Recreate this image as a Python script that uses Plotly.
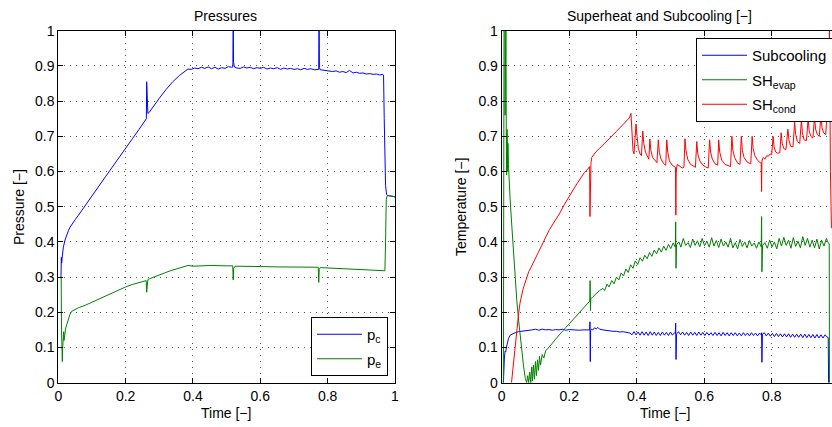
import plotly.graph_objects as go

# ---------------- data ----------------
# Left panel: pressures vs time
PC_POINTS = [
    (0.008, 0.300), (0.0085, 0.350), (0.009, 0.356), (0.0095, 0.345), (0.010, 0.340),
    (0.012, 0.360), (0.015, 0.385), (0.020, 0.405), (0.025, 0.420), (0.030, 0.432),
    (0.035, 0.442), (0.040, 0.450), (0.050, 0.463), (0.060, 0.476), (0.070, 0.490),
    (0.080, 0.502), (0.090, 0.516), (0.100, 0.530), (0.120, 0.557), (0.140, 0.585),
    (0.160, 0.612), (0.180, 0.640), (0.200, 0.666), (0.220, 0.693), (0.240, 0.720),
    (0.2615, 0.750), (0.2625, 0.855), (0.2640, 0.790), (0.2660, 0.765), (0.2700, 0.768),
    (0.280, 0.782), (0.300, 0.808), (0.320, 0.833), (0.340, 0.855), (0.360, 0.873),
    (0.375, 0.884), (0.385, 0.891), (0.395, 0.890), (0.405, 0.894), (0.415, 0.892),
    (0.425, 0.896), (0.435, 0.893), (0.445, 0.897), (0.455, 0.892), (0.465, 0.896),
    (0.475, 0.891), (0.485, 0.895), (0.495, 0.893), (0.505, 0.898), (0.515, 0.896),
    (0.5185, 0.897), (0.5195, 1.050), (0.5205, 0.910), (0.523, 0.897), (0.530, 0.894),
    (0.540, 0.893), (0.550, 0.897), (0.560, 0.894), (0.570, 0.896), (0.580, 0.892),
    (0.590, 0.895), (0.600, 0.893), (0.610, 0.896), (0.620, 0.891), (0.630, 0.894),
    (0.640, 0.892), (0.650, 0.895), (0.660, 0.890), (0.670, 0.894), (0.680, 0.891),
    (0.690, 0.893), (0.700, 0.890), (0.710, 0.892), (0.720, 0.889), (0.730, 0.893),
    (0.740, 0.890), (0.750, 0.892), (0.760, 0.889), (0.770, 0.891), (0.7735, 0.890),
    (0.7745, 1.050), (0.7755, 0.895), (0.778, 0.889), (0.785, 0.888), (0.795, 0.887),
    (0.805, 0.886), (0.815, 0.884), (0.825, 0.886), (0.835, 0.882), (0.845, 0.884),
    (0.855, 0.881), (0.865, 0.887), (0.875, 0.880), (0.885, 0.882), (0.895, 0.879),
    (0.905, 0.880), (0.915, 0.877), (0.925, 0.878), (0.935, 0.876), (0.945, 0.877),
    (0.955, 0.874), (0.962, 0.876), (0.966, 0.874), (0.968, 0.750), (0.970, 0.600),
    (0.972, 0.560), (0.975, 0.535), (0.978, 0.532), (0.990, 0.530), (1.000, 0.528),
]

PE_POINTS = [
    (0.008, 0.300), (0.0085, 0.300), (0.0095, 0.150), (0.011, 0.070), (0.012, 0.060),
    (0.013, 0.100), (0.014, 0.140), (0.016, 0.145), (0.017, 0.120), (0.019, 0.140),
    (0.022, 0.155), (0.025, 0.165), (0.030, 0.182), (0.035, 0.195), (0.040, 0.203),
    (0.045, 0.206), (0.060, 0.213), (0.080, 0.220), (0.100, 0.229), (0.120, 0.238),
    (0.140, 0.247), (0.160, 0.256), (0.180, 0.264), (0.200, 0.272), (0.220, 0.279),
    (0.240, 0.285), (0.2610, 0.290), (0.2625, 0.257), (0.2640, 0.290), (0.266, 0.293),
    (0.270, 0.295), (0.290, 0.303), (0.310, 0.310), (0.330, 0.317), (0.350, 0.323),
    (0.370, 0.329), (0.385, 0.333), (0.400, 0.331), (0.450, 0.333), (0.500, 0.332),
    (0.518, 0.332), (0.5195, 0.292), (0.521, 0.325), (0.525, 0.331), (0.550, 0.330),
    (0.600, 0.330), (0.650, 0.329), (0.700, 0.329), (0.750, 0.328), (0.772, 0.328),
    (0.7735, 0.285), (0.775, 0.322), (0.778, 0.327), (0.800, 0.326), (0.850, 0.323),
    (0.900, 0.320), (0.950, 0.318), (0.970, 0.318), (0.972, 0.400), (0.974, 0.520),
    (0.977, 0.532), (0.990, 0.530), (1.000, 0.528),
]

# Right panel: superheat and subcooling vs time
SUBCOOL_POINTS = [
    (0.005, 0.000), (0.006, 0.065), (0.008, 0.070), (0.010, 0.090), (0.012, 0.088),
    (0.014, 0.100), (0.017, 0.115), (0.020, 0.125), (0.025, 0.135), (0.030, 0.138),
    (0.040, 0.142), (0.050, 0.145), (0.060, 0.146), (0.070, 0.148), (0.080, 0.147),
    (0.090, 0.150), (0.100, 0.152), (0.110, 0.149), (0.120, 0.152), (0.130, 0.150),
    (0.140, 0.151), (0.150, 0.149), (0.160, 0.151), (0.170, 0.150), (0.180, 0.152),
    (0.190, 0.149), (0.200, 0.151), (0.210, 0.150), (0.220, 0.151), (0.230, 0.149),
    (0.240, 0.150), (0.250, 0.149), (0.2605, 0.150), (0.2615, 0.173), (0.2625, 0.060),
    (0.2635, 0.148), (0.266, 0.152), (0.270, 0.150), (0.275, 0.156), (0.280, 0.153),
    (0.285, 0.157), (0.290, 0.152), (0.300, 0.150), (0.310, 0.148), (0.320, 0.147),
    (0.330, 0.146), (0.340, 0.146), (0.350, 0.144), (0.360, 0.145), (0.370, 0.142),
    (0.380, 0.141), (0.386, 0.136), (0.392, 0.145), (0.398, 0.136), (0.404, 0.144),
    (0.410, 0.135), (0.416, 0.145), (0.422, 0.135), (0.428, 0.144), (0.434, 0.134),
    (0.440, 0.145), (0.446, 0.135), (0.452, 0.144), (0.458, 0.134), (0.464, 0.143),
    (0.470, 0.134), (0.476, 0.144), (0.482, 0.135), (0.488, 0.143), (0.494, 0.134),
    (0.500, 0.144), (0.506, 0.135), (0.512, 0.142), (0.5145, 0.140), (0.5155, 0.169),
    (0.5165, 0.066), (0.518, 0.138), (0.524, 0.145), (0.530, 0.136), (0.536, 0.144),
    (0.542, 0.135), (0.548, 0.143), (0.554, 0.134), (0.560, 0.144), (0.566, 0.135),
    (0.572, 0.143), (0.578, 0.134), (0.584, 0.144), (0.590, 0.135), (0.596, 0.143),
    (0.602, 0.134), (0.608, 0.143), (0.614, 0.135), (0.620, 0.142), (0.626, 0.134),
    (0.632, 0.143), (0.638, 0.134), (0.644, 0.142), (0.650, 0.133), (0.656, 0.143),
    (0.662, 0.134), (0.668, 0.142), (0.674, 0.133), (0.680, 0.142), (0.686, 0.134),
    (0.692, 0.142), (0.698, 0.133), (0.704, 0.141), (0.710, 0.133), (0.716, 0.142),
    (0.722, 0.134), (0.728, 0.141), (0.734, 0.133), (0.740, 0.142), (0.746, 0.134),
    (0.752, 0.141), (0.758, 0.133), (0.764, 0.141), (0.7690, 0.136), (0.7700, 0.142),
    (0.7710, 0.058), (0.7725, 0.138), (0.778, 0.142), (0.784, 0.133), (0.790, 0.141),
    (0.796, 0.132), (0.802, 0.140), (0.808, 0.131), (0.814, 0.140), (0.820, 0.131),
    (0.826, 0.139), (0.832, 0.130), (0.838, 0.139), (0.844, 0.130), (0.850, 0.139),
    (0.856, 0.129), (0.862, 0.138), (0.868, 0.129), (0.874, 0.138), (0.880, 0.129),
    (0.886, 0.138), (0.892, 0.128), (0.898, 0.138), (0.904, 0.128), (0.910, 0.137),
    (0.916, 0.128), (0.922, 0.137), (0.928, 0.127), (0.934, 0.137), (0.940, 0.127),
    (0.946, 0.136), (0.952, 0.127), (0.958, 0.136), (0.964, 0.130), (0.9675, 0.128),
    (0.9685, 0.000),
]

SH_EVAP_POINTS = [
    (0.005, 0.000), (0.007, 1.050), (0.0095, 1.050), (0.0100, 0.760), (0.0115, 1.050),
    (0.0125, 1.050), (0.0135, 0.720), (0.0145, 0.590), (0.0155, 0.720), (0.0165, 0.710),
    (0.0175, 0.600), (0.0185, 0.680), (0.0200, 0.620), (0.0220, 0.570), (0.0250, 0.520),
    (0.0300, 0.445), (0.0350, 0.365), (0.0400, 0.290), (0.0450, 0.230), (0.0500, 0.178),
    (0.0550, 0.130), (0.0600, 0.085), (0.0650, 0.045), (0.0700, 0.012), (0.0740, 0.000),
    (0.0770, 0.020), (0.0800, 0.000), (0.0830, 0.030), (0.0860, 0.000), (0.0890, 0.045),
    (0.0910, 0.005), (0.0940, 0.050), (0.0970, 0.010), (0.1000, 0.060), (0.1030, 0.020),
    (0.1060, 0.065), (0.1090, 0.035), (0.1120, 0.075), (0.1150, 0.050), (0.1200, 0.080),
    (0.1250, 0.070), (0.1300, 0.090), (0.1400, 0.100), (0.1500, 0.112), (0.1600, 0.124),
    (0.1700, 0.136), (0.1800, 0.147), (0.1900, 0.157), (0.2000, 0.167), (0.2100, 0.178),
    (0.2200, 0.190), (0.2300, 0.200), (0.2400, 0.210), (0.2500, 0.222), (0.2610, 0.232),
    (0.2620, 0.290), (0.2630, 0.205), (0.2640, 0.238), (0.2700, 0.244), (0.2800, 0.254),
    (0.2900, 0.262), (0.3000, 0.268), (0.305, 0.262), (0.312, 0.280), (0.318, 0.272),
    (0.326, 0.290), (0.333, 0.281), (0.340, 0.300), (0.347, 0.292), (0.354, 0.312),
    (0.361, 0.303), (0.368, 0.323), (0.375, 0.313), (0.382, 0.335), (0.389, 0.325),
    (0.396, 0.346), (0.403, 0.336), (0.410, 0.355), (0.417, 0.345), (0.424, 0.362),
    (0.431, 0.352), (0.438, 0.370), (0.445, 0.359), (0.452, 0.377), (0.459, 0.366),
    (0.466, 0.383), (0.473, 0.371), (0.480, 0.388), (0.487, 0.376), (0.494, 0.393),
    (0.501, 0.381), (0.508, 0.397), (0.5145, 0.385), (0.5155, 0.457), (0.5165, 0.325),
    (0.518, 0.392), (0.525, 0.400), (0.531, 0.385), (0.538, 0.410), (0.545, 0.390),
    (0.552, 0.398), (0.559, 0.384), (0.566, 0.408), (0.573, 0.390), (0.580, 0.403),
    (0.587, 0.386), (0.594, 0.410), (0.601, 0.389), (0.608, 0.402), (0.615, 0.385),
    (0.622, 0.412), (0.629, 0.388), (0.636, 0.404), (0.643, 0.384), (0.650, 0.408),
    (0.657, 0.388), (0.664, 0.400), (0.671, 0.385), (0.678, 0.410), (0.685, 0.383),
    (0.692, 0.398), (0.699, 0.380), (0.706, 0.407), (0.713, 0.387), (0.720, 0.400),
    (0.727, 0.383), (0.734, 0.404), (0.741, 0.388), (0.748, 0.397), (0.755, 0.382),
    (0.762, 0.400), (0.7690, 0.386), (0.7700, 0.472), (0.7710, 0.315), (0.773, 0.390),
    (0.780, 0.398), (0.787, 0.382), (0.794, 0.405), (0.801, 0.386), (0.808, 0.400),
    (0.815, 0.380), (0.822, 0.410), (0.829, 0.388), (0.836, 0.413), (0.843, 0.390),
    (0.850, 0.405), (0.857, 0.382), (0.864, 0.412), (0.871, 0.387), (0.878, 0.402),
    (0.885, 0.383), (0.892, 0.415), (0.899, 0.390), (0.906, 0.410), (0.913, 0.385),
    (0.920, 0.405), (0.927, 0.383), (0.934, 0.408), (0.941, 0.380), (0.948, 0.405),
    (0.955, 0.388), (0.962, 0.410), (0.967, 0.398), (0.9705, 0.395), (0.9712, 0.000),
]

SH_COND_POINTS = [
    (0.029, 0.000), (0.032, 0.030), (0.035, 0.060), (0.038, 0.090), (0.041, 0.115),
    (0.044, 0.140), (0.047, 0.170), (0.050, 0.195), (0.054, 0.225), (0.058, 0.245),
    (0.063, 0.265), (0.068, 0.280), (0.074, 0.300), (0.080, 0.315), (0.087, 0.328),
    (0.093, 0.340), (0.099, 0.350), (0.106, 0.362), (0.113, 0.375), (0.120, 0.390),
    (0.127, 0.405), (0.133, 0.418), (0.140, 0.432), (0.150, 0.448), (0.160, 0.463),
    (0.173, 0.483), (0.185, 0.505), (0.195, 0.522), (0.205, 0.538), (0.215, 0.553),
    (0.225, 0.568), (0.235, 0.583), (0.245, 0.597), (0.255, 0.607), (0.2605, 0.614),
    (0.2615, 0.472), (0.2625, 0.600), (0.2645, 0.625), (0.267, 0.640), (0.272, 0.648),
    (0.280, 0.657), (0.290, 0.666), (0.300, 0.675), (0.310, 0.684), (0.320, 0.694),
    (0.330, 0.704), (0.340, 0.714), (0.350, 0.724), (0.360, 0.733), (0.370, 0.742),
    (0.378, 0.752), (0.383, 0.765), (0.386, 0.700), (0.389, 0.660), (0.392, 0.650),
    (0.395, 0.700), (0.398, 0.735), (0.401, 0.700), (0.405, 0.665), (0.410, 0.650),
    (0.414, 0.645), (0.418, 0.715), (0.421, 0.680), (0.426, 0.655), (0.432, 0.640),
    (0.436, 0.635), (0.439, 0.692), (0.442, 0.660), (0.447, 0.640), (0.454, 0.630),
    (0.460, 0.625), (0.464, 0.690), (0.467, 0.655), (0.472, 0.635), (0.480, 0.622),
    (0.486, 0.618), (0.489, 0.690), (0.492, 0.655), (0.497, 0.630), (0.505, 0.618),
    (0.512, 0.612), (0.515, 0.612), (0.516, 0.476), (0.517, 0.600), (0.520, 0.620),
    (0.528, 0.615), (0.535, 0.610), (0.540, 0.612), (0.543, 0.693), (0.546, 0.660),
    (0.551, 0.635), (0.560, 0.620), (0.570, 0.613), (0.574, 0.612), (0.578, 0.685),
    (0.581, 0.650), (0.587, 0.630), (0.596, 0.618), (0.606, 0.612), (0.612, 0.610),
    (0.616, 0.690), (0.619, 0.655), (0.624, 0.635), (0.632, 0.622), (0.640, 0.618),
    (0.643, 0.690), (0.646, 0.655), (0.652, 0.632), (0.662, 0.620), (0.672, 0.615),
    (0.678, 0.614), (0.682, 0.700), (0.685, 0.660), (0.690, 0.640), (0.698, 0.625),
    (0.706, 0.620), (0.710, 0.700), (0.713, 0.660), (0.718, 0.640), (0.728, 0.626),
    (0.738, 0.622), (0.742, 0.700), (0.745, 0.665), (0.750, 0.645), (0.758, 0.632),
    (0.766, 0.625), (0.769, 0.625), (0.770, 0.543), (0.771, 0.630), (0.775, 0.640),
    (0.780, 0.635), (0.785, 0.645), (0.790, 0.643), (0.795, 0.650), (0.800, 0.648),
    (0.804, 0.700), (0.807, 0.670), (0.812, 0.655), (0.818, 0.652), (0.824, 0.653),
    (0.828, 0.710), (0.831, 0.680), (0.836, 0.665), (0.842, 0.662), (0.848, 0.720),
    (0.851, 0.690), (0.856, 0.672), (0.863, 0.670), (0.868, 0.740), (0.871, 0.705),
    (0.876, 0.685), (0.883, 0.680), (0.888, 0.745), (0.891, 0.710), (0.896, 0.690),
    (0.903, 0.688), (0.908, 0.750), (0.911, 0.715), (0.916, 0.700), (0.922, 0.695),
    (0.927, 0.755), (0.930, 0.720), (0.935, 0.705), (0.941, 0.700), (0.946, 0.760),
    (0.949, 0.725), (0.954, 0.710), (0.960, 0.705), (0.964, 0.765), (0.9705, 0.760),
    (0.9710, 1.050), (0.9740, 0.600), (0.9770, 0.440), (0.9800, 0.440),
]

LEFT_X_TICKS = [0, 0.2, 0.4, 0.6, 0.8, 1]
RIGHT_X_TICKS = [0, 0.2, 0.4, 0.6, 0.8]
Y_TICKS = [0, 0.1, 0.2, 0.3, 0.4, 0.5, 0.6, 0.7, 0.8, 0.9, 1]


def split(points):
    return [p[0] for p in points], [p[1] for p in points]


W, H = 832, 427
FONT = "Liberation Sans, Arial, Helvetica, sans-serif"
BLUE, GREEN, RED = "#0000FF", "#008000", "#FF0000"

fig = go.Figure()


def add(points, name, color, xa, ya, leg, grp):
    x, y = split(points)
    fig.add_trace(go.Scatter(x=x, y=y, mode="lines", name=name,
                             line=dict(color=color, width=1),
                             xaxis=xa, yaxis=ya, legend=leg, legendgroup=grp))


add(PC_POINTS, "p<sub>c</sub>", BLUE, "x", "y", "legend", "a")
add(PE_POINTS, "p<sub>e</sub>", GREEN, "x", "y", "legend", "b")
add(SUBCOOL_POINTS, "Subcooling", BLUE, "x2", "y2", "legend2", "c")
add(SH_EVAP_POINTS, "SH<sub>evap</sub>", GREEN, "x2", "y2", "legend2", "d")
add(SH_COND_POINTS, "SH<sub>cond</sub>", RED, "x2", "y2", "legend2", "e")

# pixel geometry
L_X0, L_X1 = 58.3, 395.0
R_X0, R_XPER = 501.7, 337.5
Y_TOP, Y_BOT = 30.7, 382.7
ydom = [1 - Y_BOT / H, 1 - Y_TOP / H]

axis_common = dict(
    showline=True, linecolor="black", linewidth=1,
    ticks="inside", ticklen=5, tickcolor="black", tickwidth=1,
    showgrid=True, gridcolor="#555555", griddash="1px,5px", gridwidth=1,
    zeroline=False, tickfont=dict(size=14, family=FONT, color="black"),
)

fig.update_layout(
    width=W, height=H,
    margin=dict(l=0, r=0, t=0, b=0, autoexpand=False),
    paper_bgcolor="white", plot_bgcolor="white",
    font=dict(family=FONT, size=14, color="black"),
    xaxis=dict(axis_common, domain=[L_X0 / W, L_X1 / W], range=[0, 1],
               tickvals=LEFT_X_TICKS, mirror="allticks", anchor="y"),
    yaxis=dict(axis_common, domain=ydom, range=[0, 1], tickvals=Y_TICKS,
               mirror="allticks", anchor="x"),
    xaxis2=dict(axis_common, domain=[R_X0 / W, 1.0],
                range=[0, (W - R_X0) / R_XPER],
                tickvals=RIGHT_X_TICKS, mirror="allticks", anchor="y2"),
    yaxis2=dict(axis_common, domain=ydom, range=[0, 1], tickvals=Y_TICKS,
                mirror=False, anchor="x2"),
    legend=dict(x=388 / W, xanchor="right", y=1 - 376 / H, yanchor="bottom",
                bordercolor="black", borderwidth=1, bgcolor="white",
                itemwidth=45, tracegroupgap=2,
                font=dict(size=15, family=FONT)),
    legend2=dict(x=696 / W, xanchor="left", y=1 - 38 / H, yanchor="top",
                 bordercolor="black", borderwidth=1, bgcolor="white",
                 itemwidth=45, tracegroupgap=2,
                 font=dict(size=15, family=FONT)),
    showlegend=True,
)

annos = [
    dict(text="Pressures", x=226 / W, y=1 - 16 / H),
    dict(text="Superheat and Subcooling [\u2212]", x=659 / W, y=1 - 16 / H),
    dict(text="Time [\u2212]", x=226 / W, y=1 - 413 / H),
    dict(text="Time [\u2212]", x=665 / W, y=1 - 413 / H),
    dict(text="Pressure [\u2212]", x=19 / W, y=1 - 207 / H, textangle=-90),
    dict(text="Temperature [\u2212]", x=461 / W, y=1 - 207 / H, textangle=-90),
]
for a in annos:
    fig.add_annotation(xref="paper", yref="paper", showarrow=False,
                       xanchor="center", yanchor="middle",
                       font=dict(size=14, family=FONT, color="black"), **a)

fig.write_html("out.html")
